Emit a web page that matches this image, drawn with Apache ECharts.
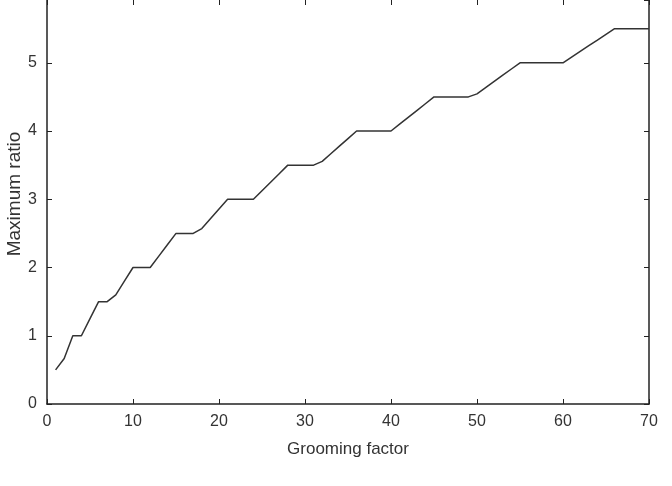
<!DOCTYPE html>
<html>
<head>
<meta charset="utf-8">
<script src="https://cdn.jsdelivr.net/npm/echarts@6/dist/echarts.min.js"></script>
<style>
  html, body { margin: 0; padding: 0; background: #fff; }
  #chart { width: 672px; height: 486px; }
</style>
</head>
<body>
<div id="chart"></div>
<script>
// Grooming factor (x) values
const groomingFactor = [
  1, 2, 3, 4, 5, 6, 7, 8, 9, 10,
  11, 12, 13, 14, 15, 16, 17, 18, 19, 20,
  21, 22, 23, 24, 25, 26, 27, 28, 29, 30,
  31, 32, 33, 34, 35, 36, 37, 38, 39, 40,
  41, 42, 43, 44, 45, 46, 47, 48, 49, 50,
  51, 52, 53, 54, 55, 56, 57, 58, 59, 60,
  61, 62, 63, 64, 65, 66, 67, 68, 69, 70
];
// Maximum ratio values
const maximumRatio = [
  0.5, 0.667, 1.0, 1.0, 1.25, 1.5, 1.5, 1.6, 1.8, 2.0,
  2.0, 2.0, 2.167, 2.333, 2.5, 2.5, 2.5, 2.571, 2.714, 2.857,
  3.0, 3.0, 3.0, 3.0, 3.125, 3.25, 3.375, 3.5, 3.5, 3.5,
  3.5, 3.556, 3.667, 3.778, 3.889, 4.0, 4.0, 4.0, 4.0, 4.0,
  4.1, 4.2, 4.3, 4.4, 4.5, 4.5, 4.5, 4.5, 4.5, 4.545,
  4.636, 4.727, 4.818, 4.909, 5.0, 5.0, 5.0, 5.0, 5.0, 5.0,
  5.083, 5.167, 5.25, 5.333, 5.417, 5.5, 5.5, 5.5, 5.5, 5.5
];
const xAxisName = 'Grooming factor';
const yAxisName = 'Maximum ratio';
// visible y range (the picture is cropped just below the 6 tick)
const yMin = 0;
const yMaxVisible = 5.92;

const FONT = 'Liberation Sans, Arial, sans-serif';
const AXIS_COLOR = '#222';
const TEXT_COLOR = '#333';

const chart = echarts.init(document.getElementById('chart'), null, { renderer: 'canvas' });

function axisLineStyle(show) {
  return { show: show, onZero: false, lineStyle: { color: AXIS_COLOR, width: 1.5 } };
}
function tickStyle() {
  return { show: true, inside: true, length: 5, lineStyle: { color: AXIS_COLOR, width: 1 } };
}

chart.setOption({
  animation: false,
  backgroundColor: '#fff',
  grid: {
    left: 47, right: 23, top: 0, bottom: 82,
    containLabel: false, outerBoundsMode: 'none'
  },
  xAxis: [
    {
      type: 'value', min: 0, max: 70, interval: 10,
      position: 'bottom',
      name: xAxisName, nameLocation: 'middle', nameGap: 37,
      nameTextStyle: { fontFamily: FONT, fontSize: 17, color: TEXT_COLOR },
      axisLine: axisLineStyle(true), axisTick: tickStyle(),
      axisLabel: { fontFamily: FONT, fontSize: 16, color: TEXT_COLOR, margin: 10 },
      splitLine: { show: false }
    },
    {
      type: 'value', min: 0, max: 70, interval: 10,
      position: 'top',
      axisLine: axisLineStyle(false), axisTick: tickStyle(),
      axisLabel: { show: false }, splitLine: { show: false }
    }
  ],
  yAxis: [
    {
      type: 'value', min: yMin, max: yMaxVisible, interval: 1,
      position: 'left',
      name: yAxisName, nameLocation: 'middle', nameGap: 23, nameMoveOverlap: false,
      nameTextStyle: { fontFamily: FONT, fontSize: 19, color: TEXT_COLOR, padding: [0, 0, 0, 16] },
      axisLine: axisLineStyle(true), axisTick: tickStyle(),
      axisLabel: { fontFamily: FONT, fontSize: 16, color: TEXT_COLOR, margin: 10, showMaxLabel: false },
      splitLine: { show: false }
    },
    {
      type: 'value', min: yMin, max: yMaxVisible, interval: 1,
      position: 'right',
      axisLine: axisLineStyle(true), axisTick: tickStyle(),
      axisLabel: { show: false }, splitLine: { show: false }
    }
  ],
  series: [
    {
      type: 'line',
      xAxisIndex: 0, yAxisIndex: 0,
      data: groomingFactor.map((x, i) => [x, maximumRatio[i]]),
      showSymbol: false,
      symbol: 'none',
      lineStyle: { color: '#333', width: 1.5 }
    }
  ]
});
</script>
</body>
</html>
